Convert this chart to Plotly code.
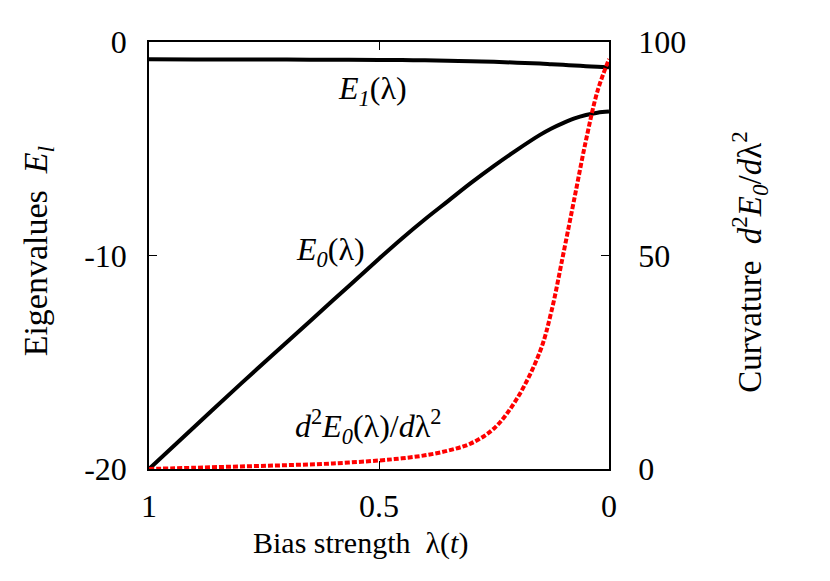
import plotly.graph_objects as go

# bias strength lambda(t), runs from 1 down to 0
lam = [1.0, 0.9, 0.8, 0.7, 0.6, 0.5, 0.45, 0.4, 0.35, 0.3, 0.25, 0.2, 0.15,
       0.125, 0.1, 0.075, 0.05, 0.025, 0.0]

# eigenvalues (left axis)
e1 = [-0.81, -0.815, -0.82, -0.825, -0.83, -0.84, -0.845, -0.86, -0.875, -0.9,
      -0.93, -0.97, -1.01, -1.04, -1.07, -1.1, -1.13, -1.16, -1.18]
e0 = [-20.0, -18.0, -16.0, -14.05, -12.1, -10.15, -9.2, -8.3, -7.45, -6.6,
      -5.8, -5.05, -4.35, -4.05, -3.8, -3.58, -3.42, -3.31, -3.26]

# curvature d2E0/dlambda2 (right axis)
curv = [0.0, 0.3, 0.6, 0.9, 1.3, 2.0, 2.5, 3.2, 4.3, 6.0, 9.5, 16.5, 27.5,
        37.0, 50.0, 63.5, 77.0, 88.5, 96.0]

font = "Liberation Serif"
black = "black"

fig = go.Figure()
fig.add_trace(go.Scatter(x=lam, y=e1, mode="lines", line=dict(color=black, width=4, shape="spline")))
fig.add_trace(go.Scatter(x=lam, y=e0, mode="lines", line=dict(color=black, width=4, shape="spline")))
fig.add_trace(go.Scatter(x=lam, y=curv, mode="lines", yaxis="y2",
                         line=dict(color="red", width=4, dash="5px,2px", shape="spline")))

# curve labels
fig.add_annotation(x=0.515, y=-2.25, xref="x", yref="y", showarrow=False,
                   text="<i>E<sub>1</sub></i>(λ)", font=dict(size=32, family=font, color=black))
fig.add_annotation(x=0.605, y=-9.8, xref="x", yref="y", showarrow=False,
                   text="<i>E<sub>0</sub></i>(λ)", font=dict(size=32, family=font, color=black))
fig.add_annotation(x=0.525, y=10.0, xref="x", yref="y2", showarrow=False,
                   text="<i>d</i><sup>2</sup><i>E<sub>0</sub></i>(λ)/<i>d</i>λ<sup>2</sup>",
                   font=dict(size=32, family=font, color=black))

# axis titles
fig.add_annotation(x=0.459, y=-0.173, xref="paper", yref="paper", showarrow=False,
                   xanchor="center", yanchor="middle",
                   text="Bias strength  λ(<i>t</i>)", font=dict(size=30, family=font, color=black))
fig.add_annotation(x=-0.241, y=0.51, xref="paper", yref="paper", showarrow=False, textangle=-90,
                   xanchor="center", yanchor="middle",
                   text="Eigenvalues  <i>E<sub>l</sub></i>", font=dict(size=34, family=font, color=black))
fig.add_annotation(x=1.306, y=0.485, xref="paper", yref="paper", showarrow=False, textangle=-90,
                   xanchor="center", yanchor="middle",
                   text="Curvature  <i>d</i><sup>2</sup><i>E<sub>0</sub></i>/<i>d</i>λ<sup>2</sup>",
                   font=dict(size=33, family=font, color=black))

axis_common = dict(showline=True, linecolor=black, linewidth=1.5, ticks="inside",
                   ticklen=8, tickcolor=black, showgrid=False, zeroline=False, automargin=False,
                   tickfont=dict(size=32, family=font, color=black))

# page body adds an 8px offset, so the figure is drawn 8px smaller
fig.update_layout(
    width=822, height=573,
    margin=dict(l=141, r=221, t=34, b=112),
    plot_bgcolor="white", paper_bgcolor="white",
    showlegend=False,
    xaxis=dict(range=[1, 0], tickvals=[1, 0.5, 0], ticktext=["1", "0.5", "0"], mirror="ticks",
               ticklabelstandoff=8, **axis_common),
    yaxis=dict(range=[-20, 0], tickvals=[-20, -10, 0], ticktext=["-20", "-10", "0"],
               ticklabelstandoff=14, **axis_common),
    yaxis2=dict(range=[0, 100], overlaying="y", side="right", tickvals=[0, 50, 100],
                ticklabelstandoff=21, **axis_common),
)

fig.write_html("out.html")
